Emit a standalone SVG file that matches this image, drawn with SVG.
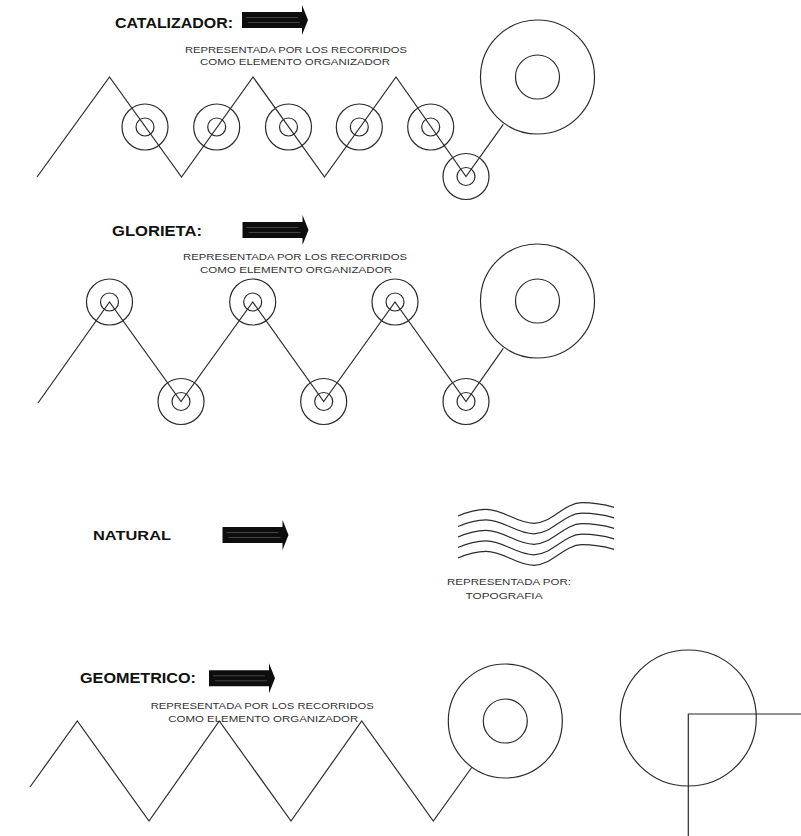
<svg xmlns="http://www.w3.org/2000/svg" xmlns:xlink="http://www.w3.org/1999/xlink" width="801" height="836" viewBox="0 0 801 836">
<style>
.ln{fill:none;stroke:#2b2b2b;stroke-width:1.2;stroke-linejoin:miter}
.title{font-family:"Liberation Sans",Arial,sans-serif;font-weight:bold;fill:#111}
.sub{font-family:"Liberation Sans",Arial,sans-serif;font-size:9px;fill:#333}
</style>
<defs>
<g id="arrow">
<path d="M0,-8 H60 V-15 L66,0 L60,15 V8 H0 Z" fill="#0d0d0d"/>
<path d="M4,-2.5 H56 M6,2.5 H58" stroke="#6a6a6a" stroke-width="0.6" fill="none"/>
</g>
<g id="ring">
<circle r="23" class="ln"/>
<circle r="9" class="ln"/>
</g>
<g id="bigring">
<circle r="57" class="ln"/>
<circle r="22" class="ln"/>
</g>
<path id="wave" d="M458,516 C467,512 476,509.3 486,509.3 C504,509.3 516,523.3 534,523.3 C552,523.3 564,502.7 582,502.7 C596,502.7 606,505 614,507.3"/>
</defs>
<rect width="801" height="836" fill="#fff"/>

<g id="connectors">
<polyline class="ln" points="37,177 109.5,77 181.5,177 253,77 324.5,177 396,77 466,176.5 503.3,124.3"/>
<polyline class="ln" points="38,403 109.5,302 181,401.5 252.7,302 323.7,401.5 395,302 466,401.5 503.3,348.3"/>
<polyline class="ln" points="30,787 77.3,721 149,821 219.3,721 291,821 361.7,721 433.3,821 471.7,767.5"/>
</g>

<g id="catalizador">
<text class="title" x="115" y="28" font-size="15" textLength="118" lengthAdjust="spacingAndGlyphs">CATALIZADOR:</text>
<use xlink:href="#arrow" x="242" y="20"/>
<text class="sub" x="185" y="52.5" textLength="222" lengthAdjust="spacingAndGlyphs">REPRESENTADA POR LOS RECORRIDOS</text>
<text class="sub" x="200" y="65" textLength="190" lengthAdjust="spacingAndGlyphs">COMO ELEMENTO ORGANIZADOR</text>
<g id="cat-n1"><use xlink:href="#ring" x="145" y="127"/></g>
<g id="cat-n2"><use xlink:href="#ring" x="216.7" y="127"/></g>
<g id="cat-n3"><use xlink:href="#ring" x="288.5" y="127"/></g>
<g id="cat-n4"><use xlink:href="#ring" x="359.3" y="127"/></g>
<g id="cat-n5"><use xlink:href="#ring" x="430.7" y="127"/></g>
<g id="cat-n6"><use xlink:href="#ring" x="466" y="176.5"/></g>
<g id="cat-big"><use xlink:href="#bigring" x="537.5" y="77"/></g>
</g>

<g id="glorieta">
<text class="title" x="112" y="235.5" font-size="15" textLength="90" lengthAdjust="spacingAndGlyphs">GLORIETA:</text>
<use xlink:href="#arrow" x="242.5" y="230"/>
<text class="sub" x="183" y="260" textLength="224" lengthAdjust="spacingAndGlyphs">REPRESENTADA POR LOS RECORRIDOS</text>
<text class="sub" x="200" y="273.3" textLength="192" lengthAdjust="spacingAndGlyphs">COMO ELEMENTO ORGANIZADOR</text>
<g id="glo-n1"><use xlink:href="#ring" x="109.5" y="302"/></g>
<g id="glo-n2"><use xlink:href="#ring" x="181" y="401.5"/></g>
<g id="glo-n3"><use xlink:href="#ring" x="252.7" y="302"/></g>
<g id="glo-n4"><use xlink:href="#ring" x="323.7" y="401.5"/></g>
<g id="glo-n5"><use xlink:href="#ring" x="395" y="302"/></g>
<g id="glo-n6"><use xlink:href="#ring" x="466" y="401.5"/></g>
<g id="glo-big"><use xlink:href="#bigring" x="537.5" y="301"/></g>
</g>

<g id="natural">
<text class="title" x="93" y="539.5" font-size="13" textLength="78" lengthAdjust="spacingAndGlyphs">NATURAL</text>
<use xlink:href="#arrow" x="222.5" y="535"/>
<g id="topografia" class="ln">
<use xlink:href="#wave"/>
<use xlink:href="#wave" y="10.5"/>
<use xlink:href="#wave" y="21"/>
<use xlink:href="#wave" y="31.5"/>
<use xlink:href="#wave" y="42"/>
</g>
<text class="sub" x="447" y="584.5" textLength="124" lengthAdjust="spacingAndGlyphs">REPRESENTADA POR:</text>
<text class="sub" x="465.5" y="598.5" textLength="77" lengthAdjust="spacingAndGlyphs">TOPOGRAFIA</text>
</g>

<g id="geometrico">
<text class="title" x="80" y="683" font-size="15" textLength="116" lengthAdjust="spacingAndGlyphs">GEOMETRICO:</text>
<use xlink:href="#arrow" x="209" y="678.3"/>
<text class="sub" x="150.7" y="708.5" textLength="223" lengthAdjust="spacingAndGlyphs">REPRESENTADA POR LOS RECORRIDOS</text>
<text class="sub" x="168.3" y="721.7" textLength="190" lengthAdjust="spacingAndGlyphs">COMO ELEMENTO ORGANIZADOR</text>
<g id="geo-big"><use xlink:href="#bigring" x="505.3" y="721"/></g>
<g id="geo-circle"><circle cx="688.3" cy="718" r="68" class="ln"/></g>
<g id="geo-corner"><path class="ln" d="M801,714 H688.3 V836"/></g>
</g>
</svg>
